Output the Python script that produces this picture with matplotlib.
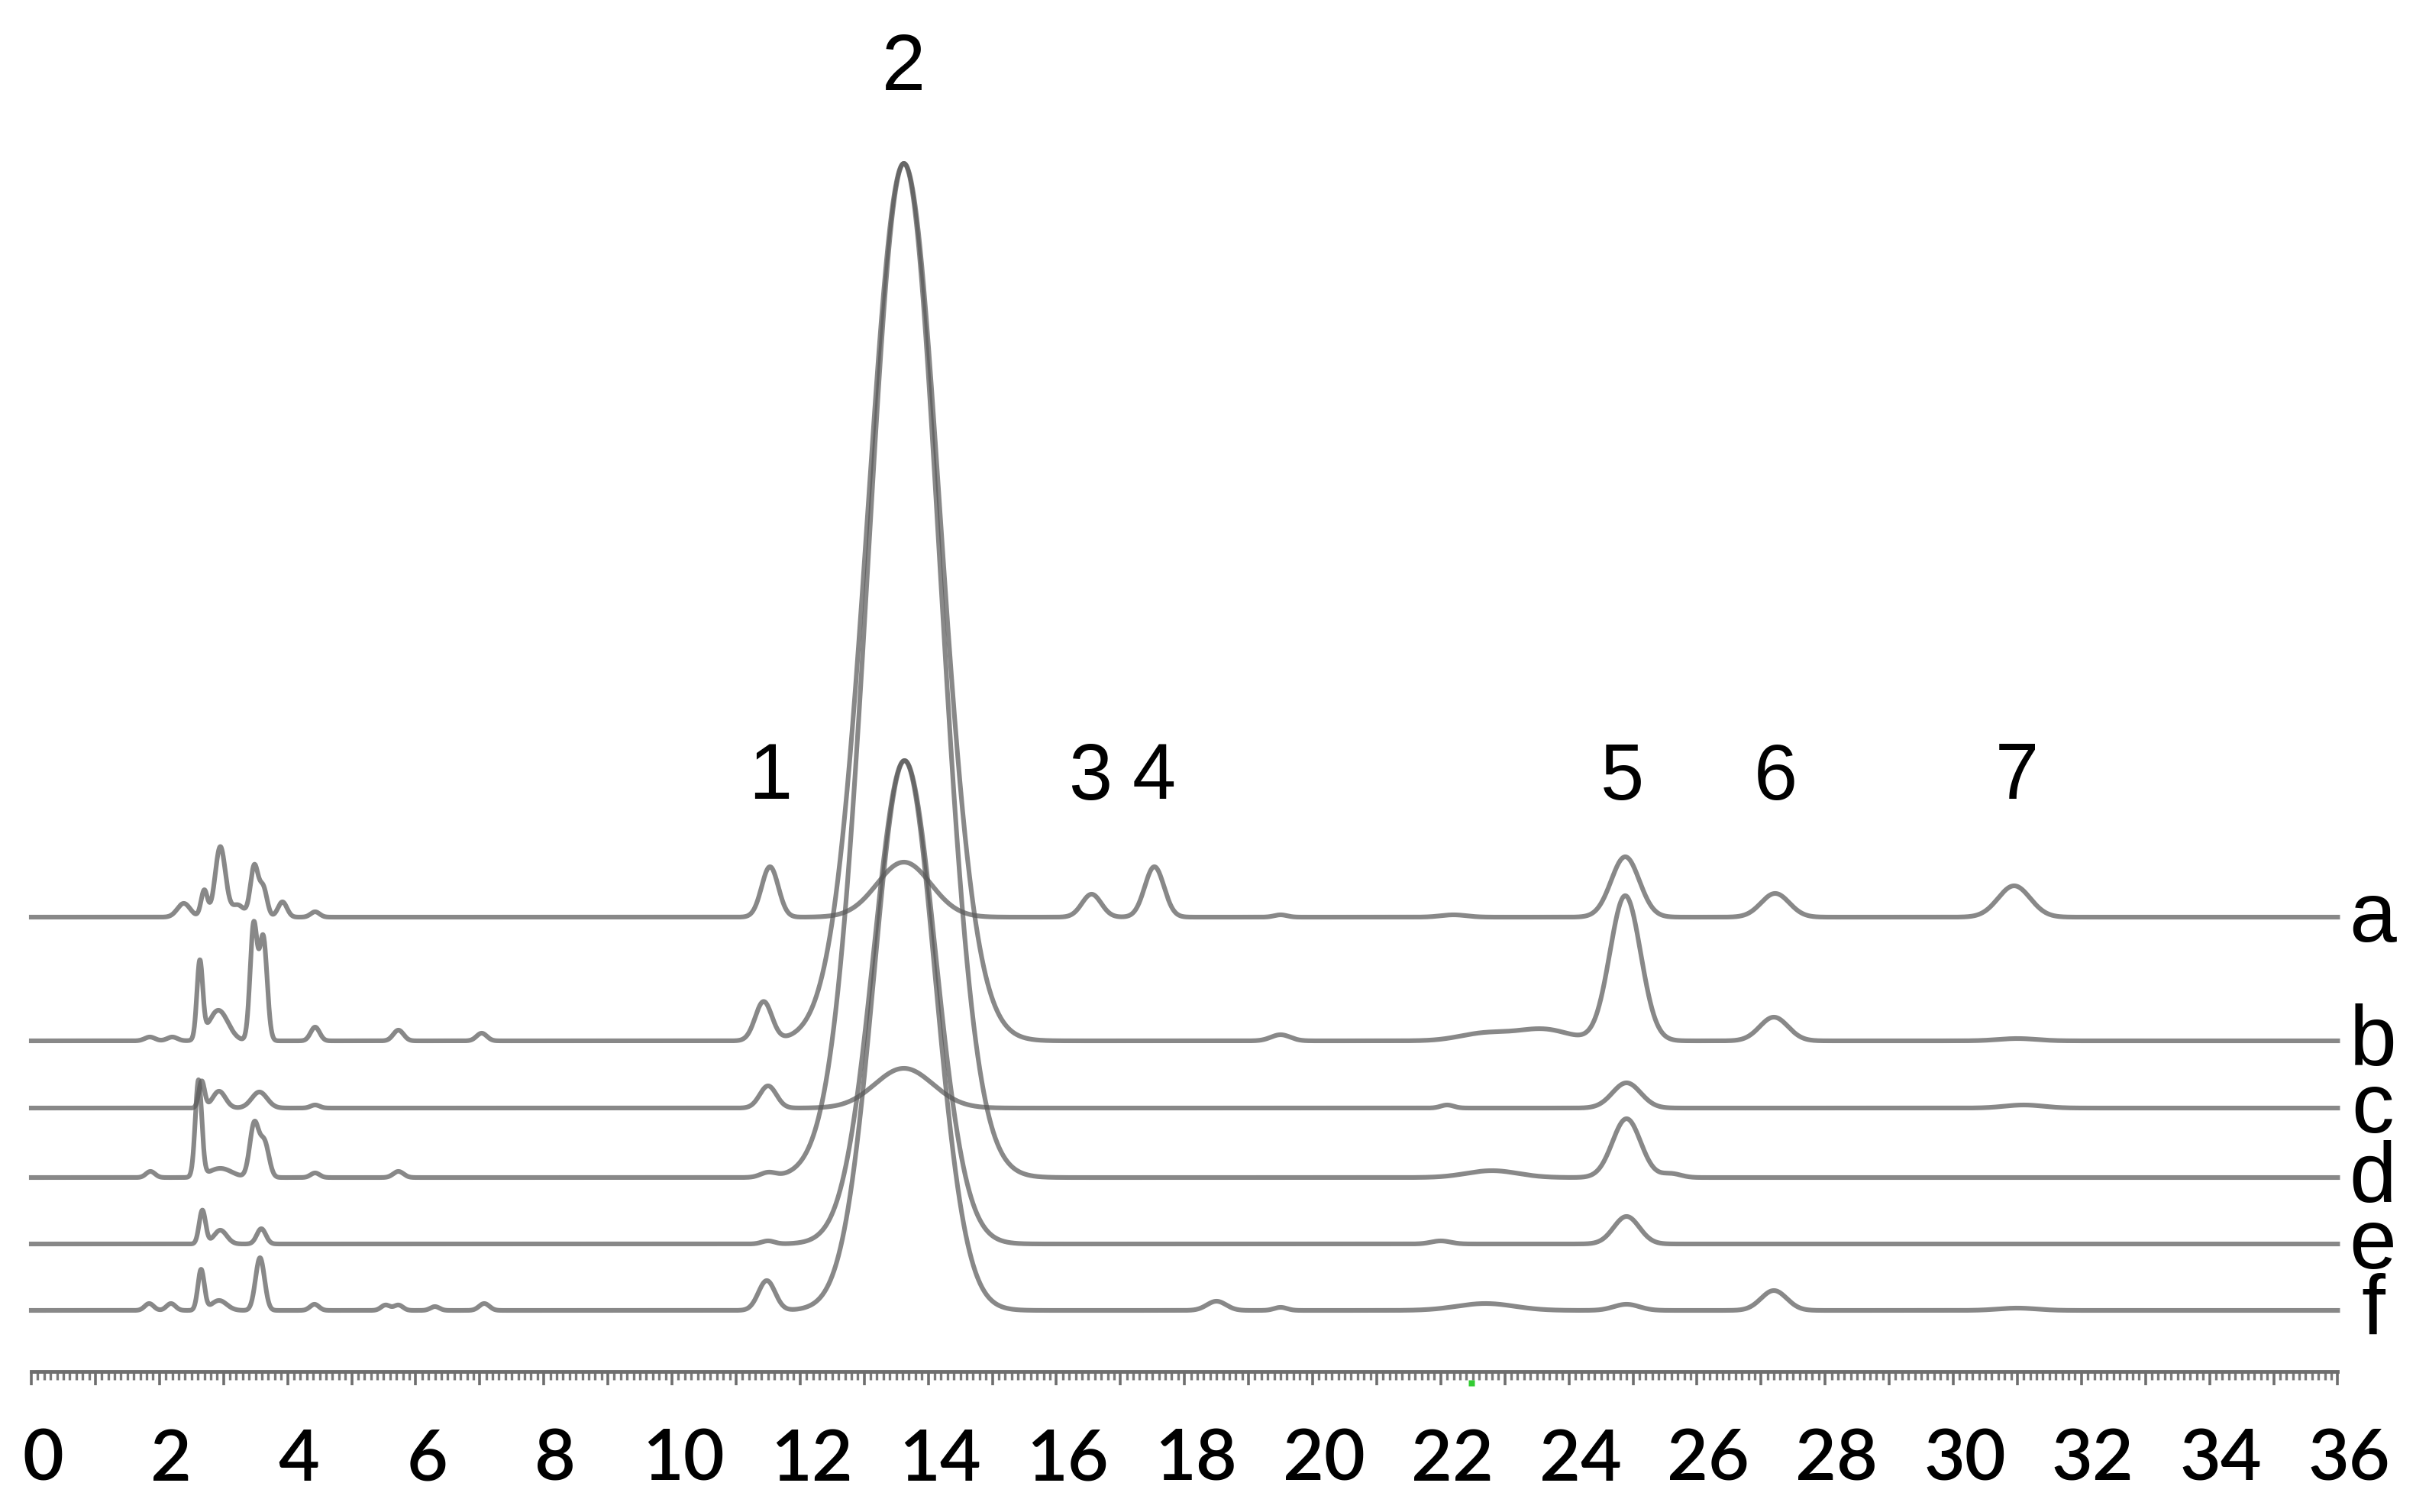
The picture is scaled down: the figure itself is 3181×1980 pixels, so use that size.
import matplotlib
matplotlib.use("Agg")
import matplotlib.pyplot as plt
import matplotlib.transforms as mtransforms
import numpy as np

# peak tables: (retention time [min], height, width [min])
# heights are in pixels above each trace's own baseline
peaks_a = [(2.38, 18, 0.10), (2.70, 35, 0.05), (2.95, 92, 0.08), (3.22, 16, 0.10),
           (3.48, 66, 0.06), (3.62, 38, 0.06), (3.92, 20, 0.07), (4.43, 7, 0.07),
           (11.53, 66, 0.13), (13.62, 72, 0.42), (16.55, 30, 0.15), (17.53, 66, 0.15),
           (19.5, 3, 0.10), (22.2, 3, 0.20), (24.88, 79, 0.22), (27.22, 31, 0.22),
           (30.95, 41, 0.25)]
peaks_b = [(1.85, 5, 0.08), (2.20, 5, 0.08), (2.63, 100, 0.045), (2.92, 40, 0.15),
           (3.47, 150, 0.055), (3.62, 135, 0.06), (4.43, 18, 0.07), (5.73, 14, 0.08),
           (7.03, 10, 0.08), (11.43, 51, 0.13), (13.62, 1149, 0.56), (19.5, 8, 0.15),
           (22.7, 10, 0.40), (23.6, 15, 0.40), (24.88, 190, 0.24), (27.2, 31, 0.22),
           (31.0, 3, 0.30)]
peaks_c = [(2.66, 35, 0.045), (2.93, 22, 0.10), (3.56, 21, 0.12), (4.43, 4, 0.07),
           (11.5, 29, 0.13), (13.62, 52, 0.45), (22.1, 4, 0.10), (24.9, 33, 0.22),
           (31.1, 4, 0.30)]
peaks_d = [(1.86, 8, 0.07), (2.61, 126, 0.05), (2.95, 12, 0.18), (3.48, 70, 0.07),
           (3.64, 45, 0.07), (4.43, 6, 0.07), (5.73, 8, 0.08), (11.5, 6, 0.12),
           (13.62, 1328, 0.56), (22.8, 9, 0.40), (24.9, 77, 0.22), (25.6, 5, 0.15)]
peaks_e = [(2.67, 44, 0.05), (2.95, 18, 0.10), (3.59, 20, 0.07), (11.5, 4, 0.10),
           (13.63, 633, 0.48), (22.0, 4, 0.15), (24.9, 36, 0.20)]
peaks_f = [(1.84, 9, 0.07), (2.18, 9, 0.07), (2.65, 53, 0.05), (2.93, 13, 0.12),
           (3.57, 69, 0.07), (4.42, 8, 0.07), (5.53, 7, 0.07), (5.73, 7, 0.07),
           (6.3, 5, 0.07), (7.07, 9, 0.08), (11.48, 39, 0.13), (13.63, 720, 0.48),
           (18.5, 12, 0.15), (19.5, 4, 0.10), (22.7, 9, 0.45), (24.9, 8, 0.20),
           (27.2, 26, 0.20), (31.0, 3, 0.30)]

trace_names = ["a", "b", "c", "d", "e", "f"]
trace_offsets = [595, 433, 345, 254, 167, 80]

peak_labels = ["1", "2", "3", "4", "5", "6", "7"]
peak_label_t = [11.53, 13.61, 16.53, 17.52, 24.83, 27.23, 30.99]
peak_label_y = [777, 1706, 777, 777, 777, 777, 777]

t = np.linspace(0, 36, 7201)


def trace(peaks, offset):
    y = np.full_like(t, float(offset))
    for rt, h, w in peaks:
        y += h * np.exp(-0.5 * ((t - rt) / w) ** 2)
    return y


fig = plt.figure(figsize=(31.81, 19.81), dpi=100)
ax = fig.add_axes([0, 0, 1, 1])
ax.set_xlim(-41 / 83.9, (3181 - 41) / 83.9)
ax.set_ylim(-184, 1797)

for name, peaks, off in zip(trace_names, [peaks_a, peaks_b, peaks_c, peaks_d, peaks_e, peaks_f],
                            trace_offsets):
    ax.plot(t, trace(peaks, off), color="#5a5a5a", alpha=0.72, lw=4.4,
            solid_joinstyle="round")
    ax.text(36.55, off - 31, name, fontsize=80, family="Liberation Sans",
            ha="center", va="baseline")

for lab, x, y in zip(peak_labels, peak_label_t, peak_label_y):
    ax.text(x, y, lab, fontsize=74, family="Liberation Sans", ha="center", va="center")

# little green speck on the axis
ax.plot([22.48], [-15], marker="s", ms=6, color="#33cc33", mec="none")

for s in ["left", "right", "top"]:
    ax.spines[s].set_visible(False)
ax.spines["bottom"].set_position(("data", 0))
ax.spines["bottom"].set_bounds(0, 36)
ax.spines["bottom"].set_color("#6e6e6e")
ax.spines["bottom"].set_linewidth(3.5)
ax.set_yticks([])
ax.set_xticks(np.arange(0, 37, 1))
ax.set_xticks(np.arange(0, 36.01, 0.1), minor=True)
ax.set_xticklabels([str(i) if i % 2 == 0 else "" for i in range(37)])
ax.tick_params(axis="x", which="major", length=13, width=2.6, color="#6e6e6e",
               pad=40, labelsize=67)
ax.tick_params(axis="x", which="minor", length=8, width=2.4, color="#7a7a7a")
off = mtransforms.ScaledTranslation(0.15, 0, fig.dpi_scale_trans)
for lbl in ax.get_xticklabels():
    lbl.set_fontfamily("Lato")
    lbl.set_fontweight("semibold")
    lbl.set_transform(lbl.get_transform() + off)

fig.savefig("out.png", dpi=100)
